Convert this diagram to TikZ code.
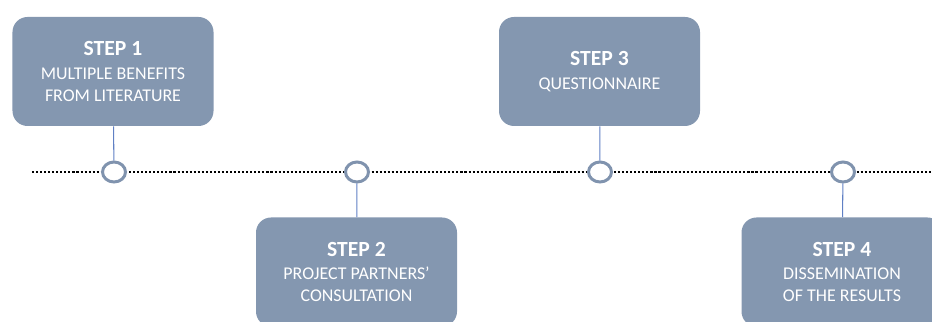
\documentclass[tikz,border=0pt]{standalone}
\usepackage{fontspec}
\setmainfont{Carlito}
\usetikzlibrary{shapes.geometric}

\definecolor{boxgray}{RGB}{132,151,176}
\definecolor{ringgray}{RGB}{128,147,174}
\definecolor{linkblue}{RGB}{96,128,196}

\tikzset{
  stepbox/.style={draw=none, fill=boxgray, rounded corners=0.3cm, minimum width=4.02cm,
    minimum height=2.18cm, align=center, text=white, font=\fontsize{10.2}{12.4}\selectfont},
  ring/.style={ellipse, draw=ringgray, line width=1.7pt, fill=white, minimum width=0.46cm,
    minimum height=0.4cm, inner sep=0pt},
  link/.style={draw=linkblue, line width=0.6pt}
}

\newcommand{\steptitle}[1]{{\fontsize{12.3}{14}\selectfont\bfseries #1}\\[1pt]}

\begin{document}
\begin{tikzpicture}

\clip (0,0) rectangle (18.64,6.44);
\useasboundingbox (0,0) rectangle (18.64,6.44);

\node[stepbox] (step1) at (2.26,5.01) {\steptitle{STEP 1}MULTIPLE BENEFITS\\FROM LITERATURE};
\node[stepbox] (step2) at (7.13,1.0) {\steptitle{STEP 2}PROJECT PARTNERS'\\CONSULTATION};
\node[stepbox] (step3) at (11.99,5.01) {\steptitle{STEP 3}QUESTIONNAIRE};
\node[stepbox] (step4) at (16.84,1.0) {\steptitle{STEP 4}DISSEMINATION\\OF THE RESULTS};

\coordinate (start) at (0.64,3.0);
\coordinate (end) at (18.64,3.0);
\draw[line width=1.3pt, dash pattern=on 1.2pt off 1.1pt] (start) -- (end);

\node[ring] (ring1) at (2.28,3.0) {};
\node[ring] (ring2) at (7.14,3.0) {};
\node[ring] (ring3) at (12.0,3.0) {};
\node[ring] (ring4) at (16.86,3.0) {};

\draw[link] (step1) -- (ring1);
\draw[link] (step2) -- (ring2);
\draw[link] (step3) -- (ring3);
\draw[link] (step4) -- (ring4);

\end{tikzpicture}
\end{document}
